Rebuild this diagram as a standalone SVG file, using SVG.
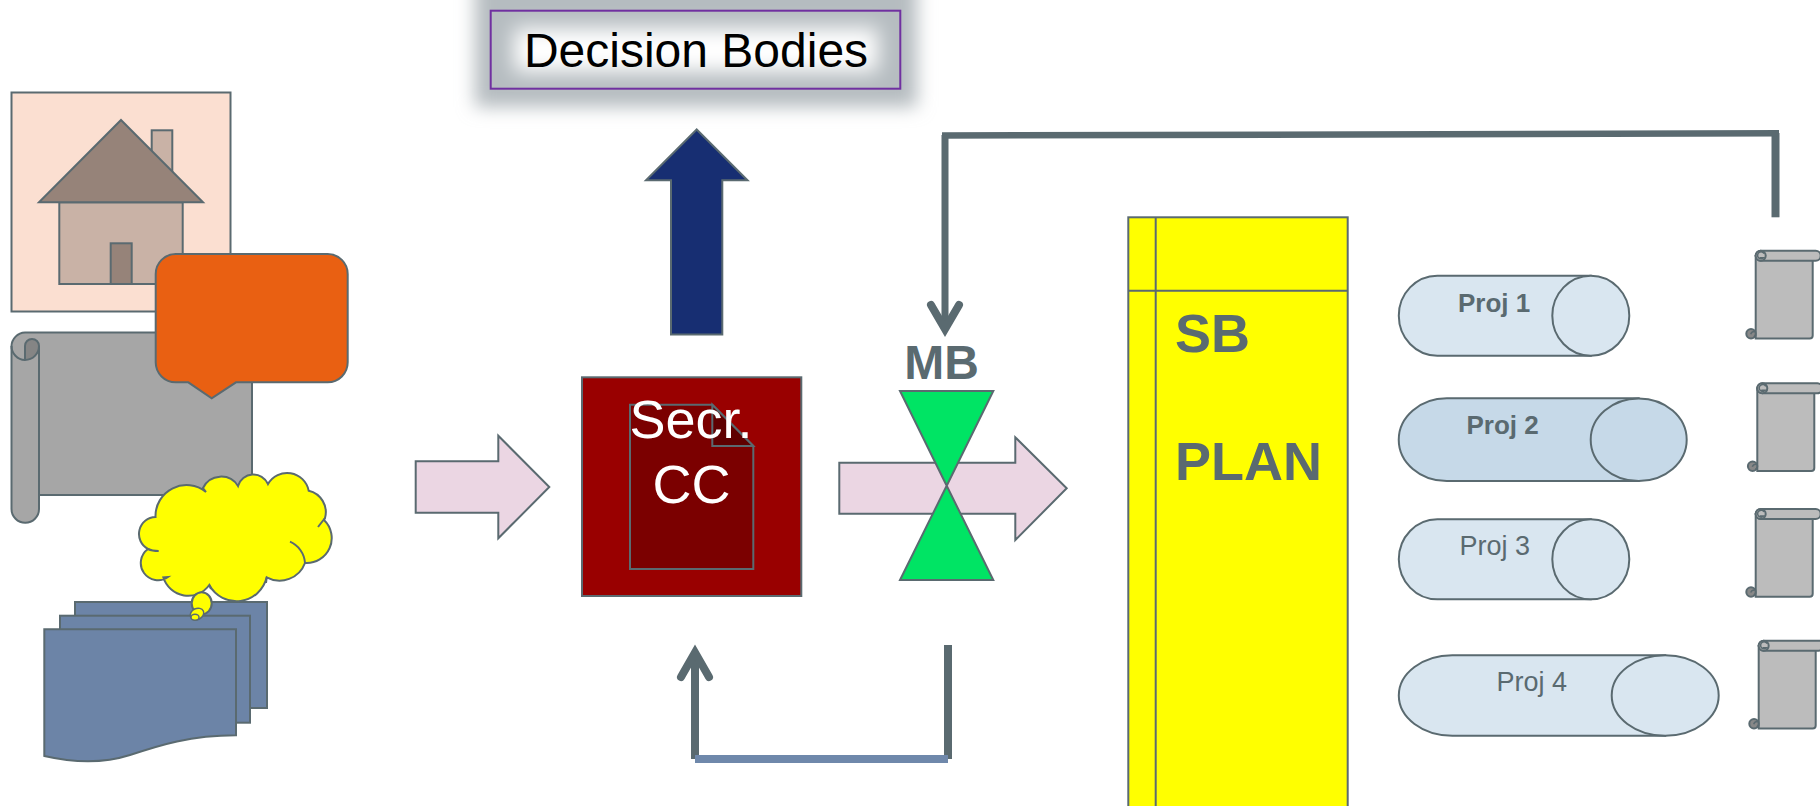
<svg xmlns="http://www.w3.org/2000/svg" xmlns:xlink="http://www.w3.org/1999/xlink" width="1820" height="806" viewBox="0 0 1820 806">
<style>
.s{stroke:#5a6a70;stroke-width:2;stroke-linejoin:miter}
.t{font-family:"Liberation Sans",Arial,sans-serif}
.g{fill:#5a6a70}
.b{font-weight:bold}
.w{fill:#fff}
.can{fill:#d9e6f0}
.can2{fill:#c6d9e8}
.pink{fill:#ebd6e3}
.green{fill:#00e464}
.sheet{fill:#6c84a7}
.conn{fill:none;stroke:#5a6a70}
</style>
<defs>
<filter id="blur" x="-20%" y="-50%" width="140%" height="200%"><feGaussianBlur stdDeviation="9"/></filter>
<filter id="blur2" x="-20%" y="-80%" width="140%" height="260%"><feGaussianBlur stdDeviation="10"/></filter>
<g id="scroll" class="s">
<path d="M0,5V87.7H54Q57,87.7 57,84.7V5Z" fill="#bcbcbc"/>
<path d="M5,0H60a5,5 0 0 1 0,10H5a5,5 0 0 1 0,-10Z" fill="#bcbcbc"/>
<circle cx="5" cy="5" r="5" fill="#bcbcbc"/>
<path d="M8.5,3A3.5,3.5 0 1 0 8,7H4" fill="none" style="stroke-width:1.5"/>
<circle cx="-4.7" cy="83" r="4.7" fill="#888888"/>
<path d="M-0.5,81A4,4 0 0 0 -5,83.5M-2,86A3,3 0 0 0 0,84" fill="none" style="stroke-width:1.5"/>
</g>
</defs>

<g id="house">
<rect class="s" x="11.5" y="92.5" width="219" height="219" fill="#fbdfd1"/>
<rect class="s" x="151.7" y="130.3" width="20.6" height="45" fill="#c9b2a6"/>
<rect class="s" x="59.3" y="202.3" width="123.4" height="81.7" fill="#c9b2a6"/>
<path class="s" d="M121,120L203,202.3H39Z" fill="#968379"/>
<rect class="s" x="110.7" y="243.3" width="21" height="40.7" fill="#968379"/>
</g>

<g id="plan-scroll">
<path class="s" d="M11.5,346A14,14 0 0 1 25,332.5H252V495H39V509A13.75,13.75 0 0 1 11.5,509Z" fill="#a6a6a6"/>
<path class="s" d="M25,360V346A7,7 0 0 1 39,346A14,14 0 0 1 25,360Z" fill="#858585"/>
<path class="s" d="M11.5,346A14,14 0 0 0 25,360" fill="none"/>
<path class="s" d="M39,346V495" fill="none"/>
</g>

<g id="callout">
<path class="s" d="M175.7,254H327.7A20,20 0 0 1 347.7,274V362.3A20,20 0 0 1 327.7,382.3H236L211.7,398.3L188.3,382.3H175.7A20,20 0 0 1 155.7,362.3V274A20,20 0 0 1 175.7,254Z" fill="#e96012"/>
</g>

<g id="documents">
<rect class="s sheet" x="75" y="602" width="192" height="106"/>
<rect class="s sheet" x="60" y="615.7" width="190" height="107"/>
<path class="s sheet" d="M44.3,629.3H236V735.3C190,735.3 160,745 130,755C105,763 75,763 44.3,756Z"/>
</g>

<g id="thought-cloud">
<path class="s" fill="#ffff00" d="M155.5,517A31,31 0 0 1 206,492L203,488A20,20 0 0 1 238,486A16,16 0 0 1 268,484A22,22 0 0 1 308.7,490.7A22,22 0 0 1 325,518L324,520A25,25 0 0 1 305,563A27,27 0 0 1 266.7,577.3A31,31 0 0 1 209.3,585A26,26 0 0 1 163.3,577.3L168,577A17,17 0 0 1 148,549A17,17 0 0 1 155.5,517Z"/>
<path class="s" fill="none" d="M290,541.7A25,25 0 0 1 305,563M318,527L325,518M148,549Q152,551 158.7,551M266.7,577.3L266,583M209.3,585L211,589"/>
<ellipse class="s" cx="201.7" cy="603.3" rx="10" ry="11" fill="#ffff00"/>
<ellipse cx="197" cy="614" rx="7" ry="5.5" fill="#ffff00" transform="rotate(-25 197 614)" stroke="#5a6a70" stroke-width="1.5"/>
<ellipse cx="195" cy="617.3" rx="4" ry="3" fill="#ffff00" stroke="#5a6a70" stroke-width="1.5"/>
</g>

<g id="arrow-in"><path class="s pink" d="M415.7,461.3H498.3V435.7L549.3,487L498.3,538.3V512.7H415.7Z"/></g>

<g id="secr-cc">
<rect class="s" x="582" y="377.3" width="219.3" height="218.7" fill="#990000"/>
<path class="s" d="M630,404.7H712.3L753.3,446V569H630Z" fill="#7b0000"/>
<path class="s" d="M712.3,404.7L753.3,446H712.3Z" fill="#5f0000"/>
<text class="t w" x="691" y="438.3" font-size="54" text-anchor="middle">Secr.</text>
<text class="t w" x="691.5" y="503.3" font-size="54" text-anchor="middle">CC</text>
</g>

<g id="arrow-up"><path class="s" fill="#172e72" d="M696.7,129.5L747.5,180.3H722.3V334.5H671V180.3H646Z"/></g>

<g id="decision-bodies">
<rect x="475" y="-25" width="442" height="132" fill="#b5bcc0" filter="url(#blur)"/>
<rect x="514" y="28" width="364" height="44" fill="#ffffff" filter="url(#blur2)"/>
<rect x="490.7" y="10.7" width="409.6" height="78" fill="none" stroke="#7030a0" stroke-width="2"/>
<text class="t" x="696" y="66.7" font-size="48" text-anchor="middle" fill="#000000">Decision Bodies</text>
</g>

<g id="arrow-out"><path class="s pink" d="M839.3,462.7H1015.3V437.3L1066.7,488.3L1015.3,540V513.7H839.3Z"/></g>

<g id="mb">
<path class="s green" d="M900,391H993.3L946.7,485.7L900,580H993.3L946.7,485.7Z"/>
<text class="t g b" x="941.5" y="379.3" font-size="48" text-anchor="middle">MB</text>
</g>

<g id="connectors">
<path class="conn" stroke-width="8" d="M1775.5,217.3V133"/>
<path class="conn" stroke-width="6.5" d="M1779,133.3L942,135.5"/>
<path class="conn" stroke-width="7" d="M945,135V326"/>
<path class="conn" stroke-width="8" stroke-linecap="round" d="M931,305L945,329L959,305"/>
<path class="conn" stroke-width="8" d="M948,645V759"/>
<path class="conn" stroke-width="8" d="M695,759V656"/>
<path class="conn" stroke-width="8" stroke-linecap="round" d="M681,677L695,652.5L709,677"/>
<path fill="none" stroke="#6f88ab" stroke-width="8" d="M695,759H948"/>
</g>

<g id="sb-plan">
<rect class="s" x="1128.3" y="217.3" width="219.4" height="620" fill="#ffff00"/>
<path class="s" fill="none" d="M1155.7,217.3V810M1128.3,290.7H1347.7"/>
<text class="t g b" x="1175" y="352.3" font-size="54">SB</text>
<text class="t g b" x="1175" y="480" font-size="54">PLAN</text>
</g>

<g id="proj-1">
<path class="s can" d="M1590.8,275.7H1437.3A38.5,40 0 0 0 1437.3,355.7H1590.8Z"/>
<ellipse class="s can" cx="1590.8" cy="315.7" rx="38.5" ry="40"/>
<text class="t g b" x="1458" y="311.7" font-size="26">Proj 1</text>
</g>
<g id="proj-2">
<path class="s can2" d="M1638.7,398.3H1446.8A48,41.3 0 0 0 1446.8,481H1638.7Z"/>
<ellipse class="s can2" cx="1638.7" cy="439.7" rx="48" ry="41.3"/>
<text class="t g b" x="1466.5" y="434" font-size="26">Proj 2</text>
</g>
<g id="proj-3">
<path class="s can" d="M1590.8,519.3H1437.3A38.5,40 0 0 0 1437.3,599.3H1590.8Z"/>
<ellipse class="s can" cx="1590.8" cy="559.3" rx="38.5" ry="40"/>
<text class="t g" x="1459.5" y="555" font-size="27">Proj 3</text>
</g>
<g id="proj-4">
<path class="s can" d="M1665.2,655.3H1452.3A53.5,40.2 0 0 0 1452.3,735.7H1665.2Z"/>
<ellipse class="s can" cx="1665.2" cy="695.5" rx="53.5" ry="40.2"/>
<text class="t g" x="1496.5" y="691" font-size="27">Proj 4</text>
</g>

<g id="scroll-1" transform="translate(1755.7,250.7)"><use href="#scroll" xlink:href="#scroll"/></g>
<g id="scroll-2" transform="translate(1757.3,383.3)"><use href="#scroll" xlink:href="#scroll"/></g>
<g id="scroll-3" transform="translate(1755.7,509)"><use href="#scroll" xlink:href="#scroll"/></g>
<g id="scroll-4" transform="translate(1758.7,640.7)"><use href="#scroll" xlink:href="#scroll"/></g>
</svg>
